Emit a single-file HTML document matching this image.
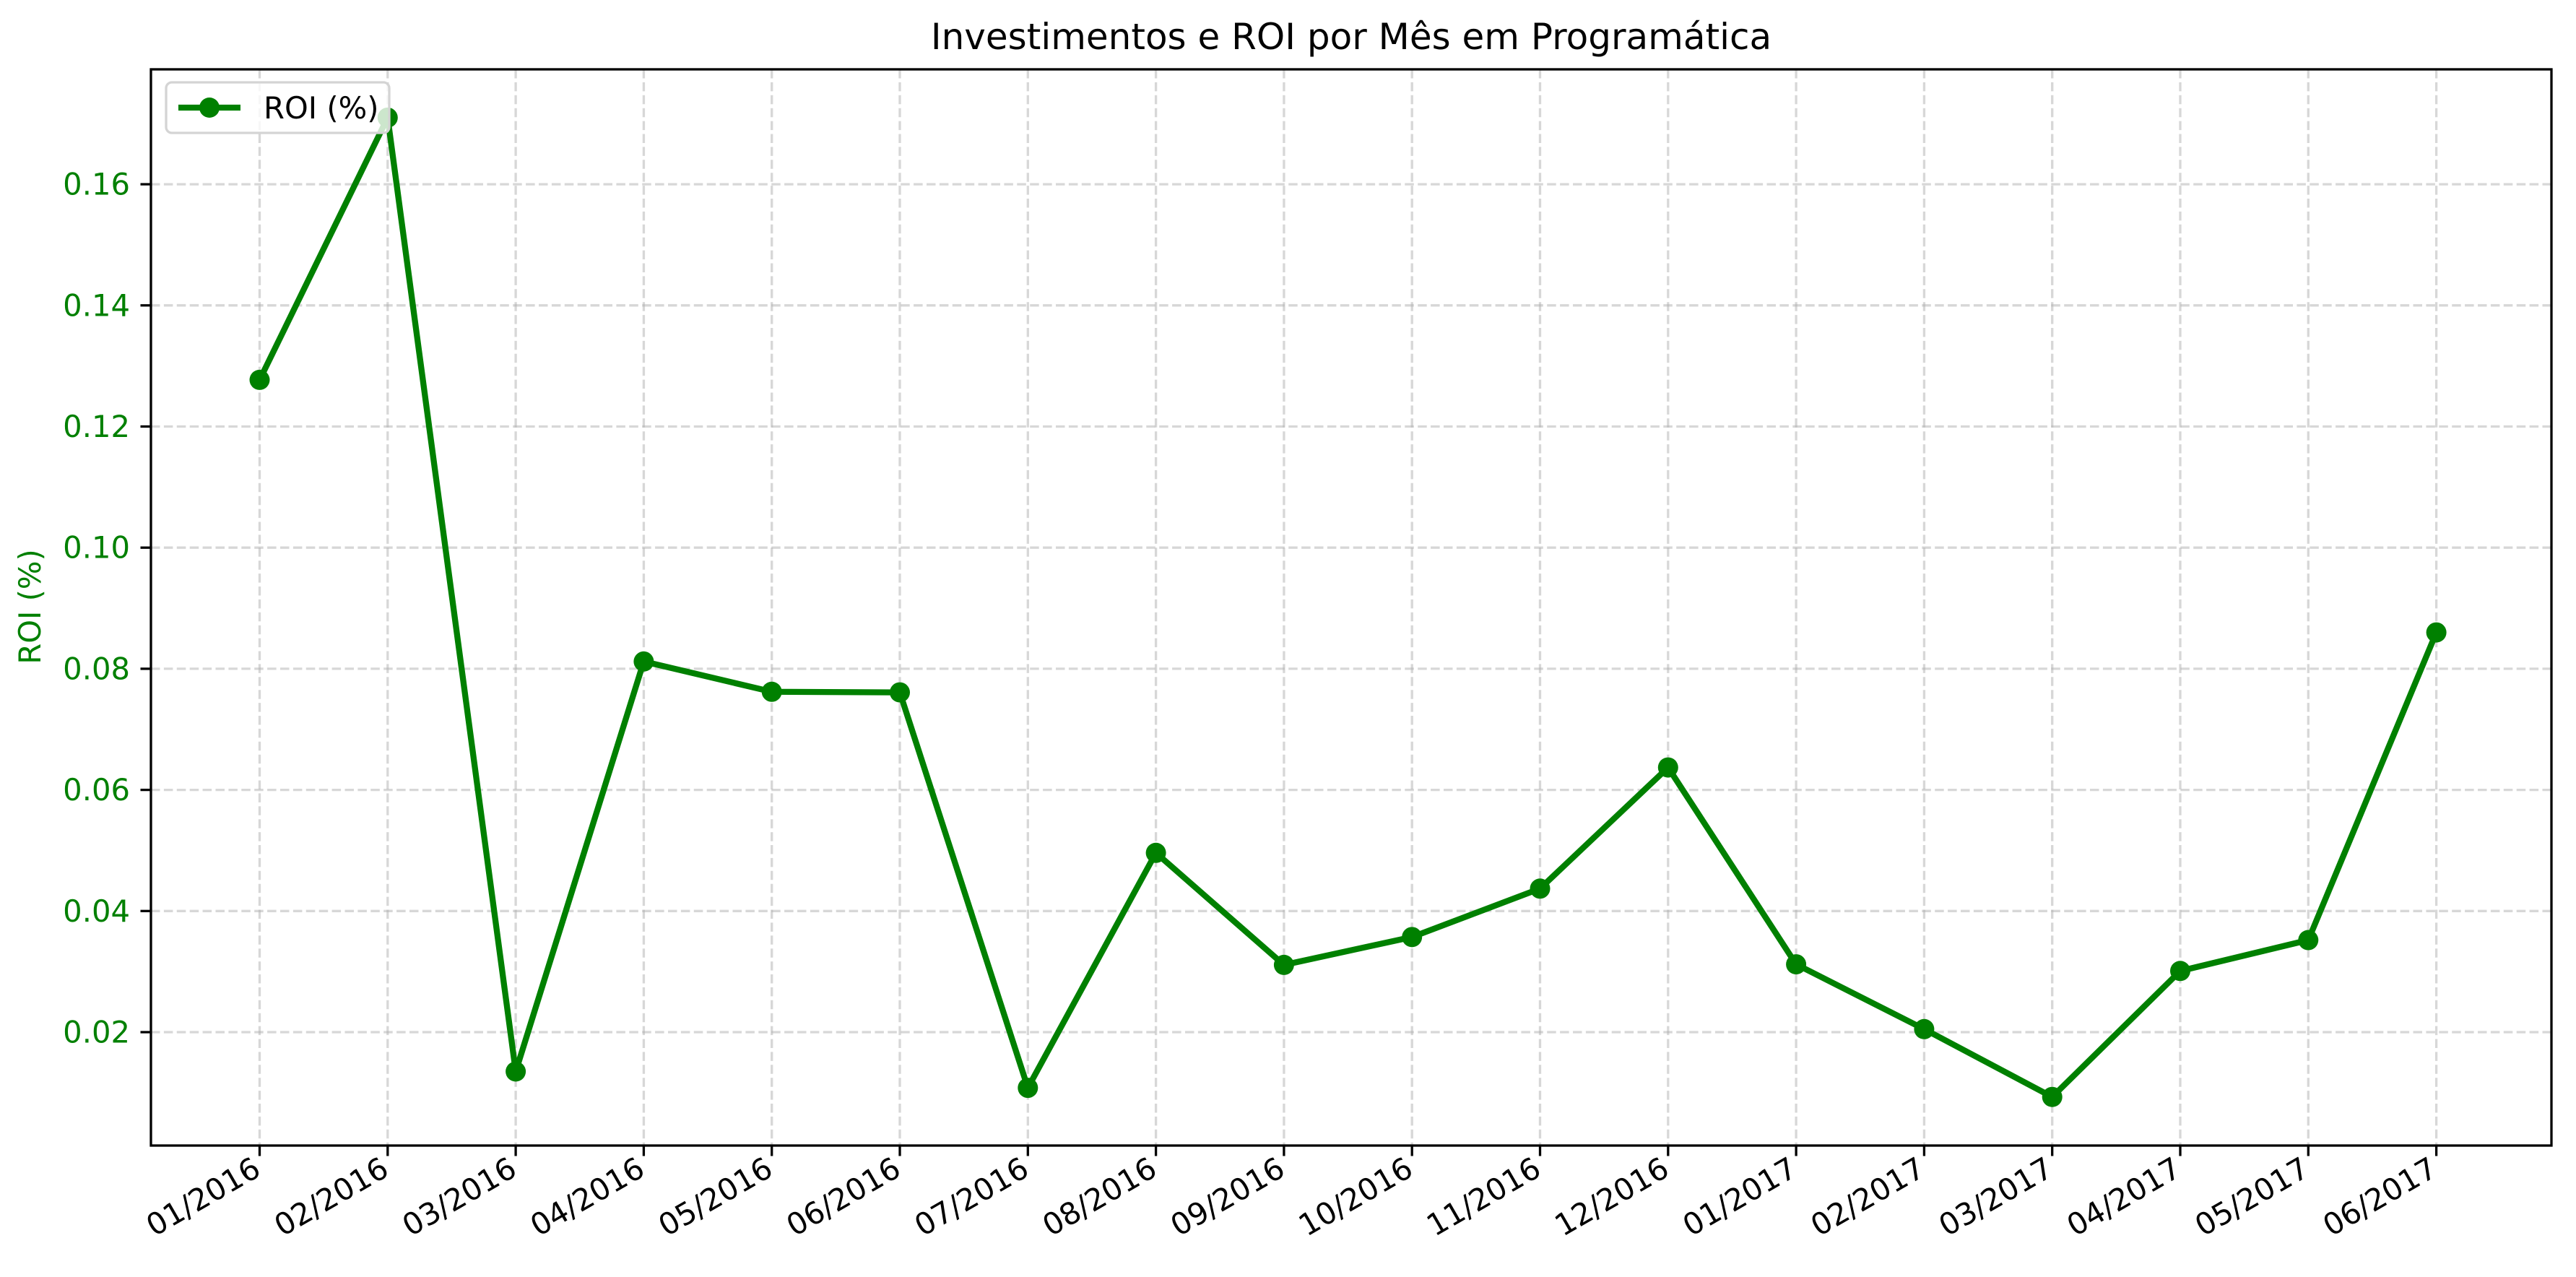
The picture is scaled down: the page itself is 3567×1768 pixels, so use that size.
<!DOCTYPE html>
<html><head><meta charset="utf-8"><style>
html,body{margin:0;padding:0;background:#fff;}
svg{display:block;font-family:"DejaVu Sans","Liberation Sans",sans-serif;}
</style></head><body>
<svg id="chart" width="3567" height="1768" viewBox="0 0 3567 1768">
<rect x="0" y="0" width="3567" height="1768" fill="#fff"/>
<text x="1871" y="68" font-size="50" text-anchor="middle" fill="#000">Investimentos e ROI por Mês em Programática</text>
<text transform="translate(56,840) rotate(-90)" font-size="41.7" text-anchor="middle" fill="#008000">ROI (%)</text>
<g id="grid"></g><g id="yticks"></g><g id="xticks"></g><g id="series"></g>
<rect x="209" y="96" width="3324" height="1490" fill="none" stroke="#000" stroke-width="3.3"/>
<g>
<rect x="230" y="114" width="309" height="70" rx="8" fill="#fff" fill-opacity="0.8" stroke="#d4d4d4" stroke-width="3.3"/>
<line x1="247" y1="149" x2="333" y2="149" stroke="#008000" stroke-width="8.3"/>
<circle cx="290" cy="149" r="14" fill="#008000"/>
<text x="365" y="164" font-size="41.7" fill="#000">ROI (%)</text>
</g>
</svg>
<script>
const categories = ["01/2016","02/2016","03/2016","04/2016","05/2016","06/2016","07/2016","08/2016","09/2016","10/2016","11/2016","12/2016","01/2017","02/2017","03/2017","04/2017","05/2017","06/2017"];
const roiValues = [0.1277,0.1710,0.0135,0.0812,0.0762,0.0761,0.0108,0.0496,0.0311,0.0357,0.0437,0.0637,0.0312,0.0205,0.0093,0.0301,0.0352,0.0860];
const yTickValues = [0.02,0.04,0.06,0.08,0.10,0.12,0.14,0.16];
const yTickLabels = ["0.02","0.04","0.06","0.08","0.10","0.12","0.14","0.16"];

const NS="http://www.w3.org/2000/svg";
const L=209,R=3533,T=96,B=1586;
function xScale(i){ return 359.5 + i*177.3; }
function yScale(v){ return 1429 - (v-0.02)/0.02*167.7; }
function mk(tag,attrs,parent){const e=document.createElementNS(NS,tag);for(const k in attrs)e.setAttribute(k,attrs[k]);parent.appendChild(e);return e;}
const grid=document.getElementById('grid'),yt=document.getElementById('yticks'),xt=document.getElementById('xticks'),ser=document.getElementById('series');

yTickValues.forEach((v,i)=>{
  const y=yScale(v);
  const g=mk('line',{x1:L,y1:y,x2:R,y2:y,stroke:'#b0b0b0','stroke-opacity':0.5,'stroke-width':3.3,'stroke-dasharray':'12.5 5.4'},grid);
  
  
  const t=mk('line',{x1:L-14.5,y1:y,x2:L,y2:y,stroke:'#000','stroke-width':3.3},yt);
  
  
  const tx=mk('text',{x:L-29,y:y+14.5,'font-size':41.7,'text-anchor':'end',fill:'#008000'},yt);
  tx.textContent=yTickLabels[i];
  
  
});
categories.forEach((c,i)=>{
  const x=xScale(i);
  const g=mk('line',{x1:x,y1:T,x2:x,y2:B,stroke:'#b0b0b0','stroke-opacity':0.5,'stroke-width':3.3,'stroke-dasharray':'12.5 5.4'},grid);
  
  
  const t=mk('line',{x1:x,y1:B,x2:x,y2:B+14.5,stroke:'#000','stroke-width':3.3},xt);
  
  
  const tx=mk('text',{transform:`translate(${x+4},${B+40}) rotate(-30)`,'font-size':41.7,'text-anchor':'end',fill:'#000'},xt);
  tx.textContent=c;
  
  
});
const pts=roiValues.map((v,i)=>xScale(i)+','+yScale(v)).join(' ');
const pl=mk('polyline',{points:pts,fill:'none',stroke:'#008000','stroke-width':8.3,'stroke-linejoin':'round','stroke-linecap':'square'},ser);


roiValues.forEach((v,i)=>{
  const c=mk('circle',{cx:xScale(i),cy:yScale(v),r:14,fill:'#008000'},ser);
  
  
});
</script>
</body></html>
